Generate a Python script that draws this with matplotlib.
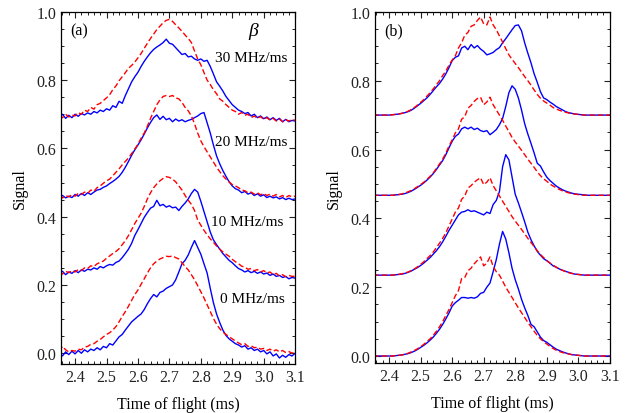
import numpy as np
import matplotlib
matplotlib.use("Agg")
import matplotlib.pyplot as plt
from matplotlib.ticker import MultipleLocator

plt.rcParams['font.family'] = ['Liberation Serif', 'DejaVu Serif']
plt.rcParams['mathtext.fontset'] = 'stix'

# time of flight grid (ms), 2.35 ... 3.10
tof = np.round(np.arange(2.35, 3.1001, 0.01), 2)

# ---- panel (a): measured signals (red dashed / blue solid), 30, 20, 10, 0 MHz/ms
a_red_30 = [0.695, 0.69, 0.70, 0.692, 0.698, 0.695, 0.705, 0.70, 0.712, 0.708,
            0.72, 0.715, 0.728, 0.732, 0.74, 0.748, 0.757, 0.772, 0.783, 0.798,
            0.81, 0.822, 0.835, 0.843, 0.853, 0.865, 0.878, 0.893, 0.908, 0.922,
            0.935, 0.948, 0.958, 0.968, 0.975, 0.978, 0.972, 0.962, 0.953, 0.943,
            0.932, 0.922, 0.91, 0.885, 0.862, 0.845, 0.822, 0.80, 0.787, 0.772,
            0.76, 0.745, 0.738, 0.728, 0.72, 0.712, 0.708, 0.70, 0.705, 0.697,
            0.70, 0.69, 0.695, 0.688, 0.693, 0.685, 0.69, 0.683, 0.688, 0.68,
            0.686, 0.678, 0.684, 0.68, 0.685, 0.682]
a_blue_30 = [0.69, 0.70, 0.688, 0.697, 0.69, 0.70, 0.694, 0.702, 0.698, 0.704,
             0.70, 0.708, 0.704, 0.712, 0.708, 0.716, 0.712, 0.725, 0.72, 0.738,
             0.732, 0.755, 0.775, 0.795, 0.81, 0.823, 0.84, 0.855, 0.868, 0.88,
             0.89, 0.897, 0.903, 0.91, 0.92, 0.908, 0.905, 0.895, 0.885, 0.875,
             0.878, 0.868, 0.87, 0.862, 0.858, 0.862, 0.855, 0.858, 0.84, 0.818,
             0.795, 0.782, 0.768, 0.752, 0.74, 0.728, 0.72, 0.712, 0.708, 0.702,
             0.705, 0.695, 0.70, 0.69, 0.695, 0.687, 0.692, 0.684, 0.69, 0.682,
             0.688, 0.678, 0.685, 0.678, 0.682, 0.68]
a_red_20 = [0.46, 0.455, 0.462, 0.458, 0.464, 0.46, 0.468, 0.465, 0.472, 0.468,
            0.478, 0.474, 0.485, 0.49, 0.498, 0.505, 0.51, 0.52, 0.53, 0.54,
            0.552, 0.562, 0.572, 0.585, 0.598, 0.612, 0.63, 0.645, 0.665, 0.688,
            0.708, 0.728, 0.742, 0.752, 0.755, 0.752, 0.755, 0.748, 0.745, 0.735,
            0.72, 0.71, 0.695, 0.672, 0.645, 0.622, 0.605, 0.59, 0.575, 0.56,
            0.545, 0.532, 0.52, 0.51, 0.502, 0.494, 0.49, 0.485, 0.478, 0.476,
            0.47, 0.472, 0.466, 0.47, 0.464, 0.468, 0.462, 0.466, 0.46, 0.465,
            0.458, 0.462, 0.456, 0.462, 0.458, 0.46]
a_blue_20 = [0.455, 0.462, 0.455, 0.46, 0.456, 0.465, 0.46, 0.468, 0.462, 0.47,
             0.465, 0.472, 0.478, 0.48, 0.486, 0.49, 0.497, 0.503, 0.51, 0.518,
             0.53, 0.545, 0.562, 0.58, 0.596, 0.61, 0.625, 0.642, 0.66, 0.676,
             0.69, 0.698, 0.685, 0.694, 0.684, 0.688, 0.678, 0.686, 0.68, 0.684,
             0.678, 0.682, 0.685, 0.69, 0.695, 0.702, 0.705, 0.675, 0.645, 0.61,
             0.578, 0.555, 0.535, 0.518, 0.502, 0.49, 0.482, 0.478, 0.47, 0.474,
             0.466, 0.47, 0.462, 0.467, 0.46, 0.464, 0.456, 0.46, 0.455, 0.458,
             0.452, 0.456, 0.45, 0.454, 0.45, 0.452]
a_red_10 = [0.238, 0.232, 0.24, 0.236, 0.242, 0.238, 0.245, 0.242, 0.25, 0.248,
            0.256, 0.254, 0.262, 0.266, 0.27, 0.278, 0.285, 0.292, 0.298, 0.306,
            0.318, 0.33, 0.345, 0.362, 0.38, 0.395, 0.41, 0.43, 0.452, 0.47,
            0.485, 0.496, 0.505, 0.512, 0.517, 0.515, 0.51, 0.502, 0.49, 0.478,
            0.462, 0.448, 0.436, 0.418, 0.39, 0.375, 0.36, 0.347, 0.335, 0.325,
            0.314, 0.305, 0.297, 0.29, 0.284, 0.275, 0.268, 0.262, 0.255, 0.252,
            0.246, 0.248, 0.242, 0.245, 0.238, 0.242, 0.235, 0.238, 0.23, 0.234,
            0.226, 0.23, 0.224, 0.228, 0.225, 0.226]
a_blue_10 = [0.235, 0.24, 0.23, 0.238, 0.234, 0.242, 0.236, 0.244, 0.24, 0.246,
             0.244, 0.25, 0.246, 0.254, 0.25, 0.256, 0.26, 0.258, 0.266, 0.27,
             0.28, 0.292, 0.305, 0.322, 0.345, 0.362, 0.38, 0.398, 0.412, 0.425,
             0.43, 0.448, 0.432, 0.436, 0.428, 0.432, 0.426, 0.428, 0.418, 0.43,
             0.44, 0.452, 0.468, 0.48, 0.472, 0.445, 0.415, 0.385, 0.355, 0.332,
             0.318, 0.305, 0.292, 0.282, 0.272, 0.265, 0.256, 0.248, 0.244, 0.238,
             0.242, 0.236, 0.24, 0.234, 0.238, 0.232, 0.235, 0.228, 0.232, 0.225,
             0.228, 0.222, 0.225, 0.218, 0.222, 0.22]
a_red_0 = [0.005, 0.02, 0.01, 0.004, 0.008, 0.006, 0.012, 0.01, 0.018, 0.02,
           0.026, 0.028, 0.035, 0.04, 0.048, 0.055, 0.06, 0.068, 0.078, 0.092,
           0.108, 0.122, 0.138, 0.155, 0.172, 0.185, 0.202, 0.218, 0.235, 0.25,
           0.262, 0.27, 0.276, 0.28, 0.284, 0.283, 0.285, 0.28, 0.276, 0.265,
           0.254, 0.244, 0.23, 0.215, 0.198, 0.18, 0.162, 0.142, 0.122, 0.102,
           0.085, 0.072, 0.062, 0.055, 0.048, 0.042, 0.036, 0.03, 0.025, 0.028,
           0.02, 0.022, 0.016, 0.018, 0.012, 0.014, 0.008, 0.012, 0.006, 0.01,
           0.004, 0.008, 0.002, 0.005, 0.0, 0.004]
a_blue_0 = [0.002, -0.008, 0.004, -0.004, 0.006, -0.002, 0.008, 0.0, 0.01, 0.004,
            0.012, 0.008, 0.016, 0.01, 0.02, 0.016, 0.028, 0.024, 0.036, 0.048,
            0.055, 0.068, 0.08, 0.092, 0.1, 0.108, 0.115, 0.128, 0.145, 0.16,
            0.172, 0.165, 0.178, 0.182, 0.19, 0.195, 0.2, 0.215, 0.238, 0.262,
            0.272, 0.288, 0.31, 0.33, 0.31, 0.29, 0.262, 0.235, 0.19, 0.148,
            0.115, 0.09, 0.068, 0.052, 0.042, 0.035, 0.028, 0.024, 0.018, 0.022,
            0.012, 0.016, 0.008, 0.012, 0.004, 0.008, -0.002, 0.004, -0.008, -0.002,
            -0.014, -0.006, -0.012, -0.004, -0.008, 0.0]

# ---- panel (b): simulated signals
b_red_30 = [0.70, 0.70, 0.70, 0.70, 0.70, 0.70, 0.701, 0.702, 0.703, 0.705,
            0.708, 0.711, 0.716, 0.722, 0.729, 0.737, 0.745, 0.755, 0.765, 0.776,
            0.788, 0.80, 0.815, 0.828, 0.845, 0.86, 0.872, 0.895, 0.91, 0.932,
            0.94, 0.958, 0.962, 0.975, 0.985, 0.965, 0.962, 0.985, 0.962, 0.948,
            0.93, 0.912, 0.893, 0.875, 0.862, 0.85, 0.838, 0.825, 0.812, 0.80,
            0.787, 0.773, 0.76, 0.749, 0.741, 0.735, 0.729, 0.722, 0.718, 0.714,
            0.711, 0.708, 0.706, 0.704, 0.703, 0.702, 0.701, 0.70, 0.70, 0.70,
            0.70, 0.70, 0.70, 0.70, 0.70, 0.70]
b_blue_30 = [0.70, 0.70, 0.70, 0.70, 0.70, 0.70, 0.701, 0.702, 0.703, 0.705,
             0.707, 0.71, 0.714, 0.72, 0.727, 0.734, 0.742, 0.75, 0.76, 0.771,
             0.782, 0.792, 0.805, 0.82, 0.838, 0.858, 0.868, 0.872, 0.895, 0.90,
             0.89, 0.905, 0.895, 0.902, 0.892, 0.885, 0.875, 0.878, 0.882, 0.89,
             0.896, 0.91, 0.922, 0.935, 0.948, 0.96, 0.962, 0.945, 0.91, 0.88,
             0.852, 0.82, 0.795, 0.768, 0.75, 0.745, 0.738, 0.732, 0.725, 0.72,
             0.715, 0.71, 0.707, 0.705, 0.703, 0.702, 0.701, 0.70, 0.70, 0.70,
             0.70, 0.70, 0.70, 0.70, 0.70, 0.70]
b_red_20 = [0.467, 0.467, 0.467, 0.467, 0.467, 0.467, 0.467, 0.468, 0.469, 0.471,
            0.474, 0.477, 0.481, 0.486, 0.492, 0.498, 0.505, 0.513, 0.522, 0.532,
            0.545, 0.558, 0.572, 0.59, 0.61, 0.628, 0.648, 0.66, 0.688, 0.695,
            0.72, 0.728, 0.74, 0.748, 0.752, 0.73, 0.738, 0.752, 0.73, 0.715,
            0.70, 0.685, 0.668, 0.652, 0.635, 0.622, 0.61, 0.598, 0.585, 0.572,
            0.56, 0.548, 0.535, 0.524, 0.515, 0.508, 0.50, 0.494, 0.489, 0.484,
            0.48, 0.477, 0.474, 0.472, 0.47, 0.469, 0.468, 0.467, 0.467, 0.467,
            0.467, 0.467, 0.467, 0.467, 0.467, 0.467]
b_blue_20 = [0.467, 0.467, 0.467, 0.467, 0.467, 0.467, 0.467, 0.468, 0.469, 0.47,
             0.472, 0.475, 0.479, 0.484, 0.49, 0.496, 0.503, 0.511, 0.52, 0.53,
             0.542, 0.555, 0.568, 0.585, 0.605, 0.624, 0.638, 0.645, 0.66, 0.665,
             0.66, 0.665, 0.658, 0.662, 0.655, 0.652, 0.655, 0.643, 0.65, 0.658,
             0.672, 0.69, 0.725, 0.765, 0.785, 0.775, 0.75, 0.715, 0.675, 0.645,
             0.618, 0.59, 0.56, 0.552, 0.535, 0.52, 0.51, 0.502, 0.494, 0.488,
             0.483, 0.479, 0.476, 0.473, 0.471, 0.47, 0.469, 0.468, 0.467, 0.467,
             0.467, 0.467, 0.467, 0.467, 0.467, 0.467]
b_red_10 = [0.235, 0.235, 0.235, 0.235, 0.235, 0.235, 0.235, 0.236, 0.237, 0.239,
            0.241, 0.244, 0.248, 0.253, 0.259, 0.266, 0.274, 0.283, 0.292, 0.302,
            0.315, 0.328, 0.342, 0.358, 0.378, 0.398, 0.418, 0.43, 0.455, 0.465,
            0.488, 0.495, 0.505, 0.512, 0.518, 0.498, 0.505, 0.518, 0.495, 0.48,
            0.465, 0.45, 0.435, 0.42, 0.405, 0.392, 0.38, 0.368, 0.355, 0.342,
            0.33, 0.318, 0.306, 0.295, 0.286, 0.278, 0.27, 0.264, 0.258, 0.253,
            0.249, 0.245, 0.242, 0.24, 0.238, 0.237, 0.236, 0.235, 0.235, 0.235,
            0.235, 0.235, 0.235, 0.235, 0.235, 0.235]
b_blue_10 = [0.235, 0.235, 0.235, 0.235, 0.235, 0.235, 0.235, 0.236, 0.237, 0.238,
             0.24, 0.243, 0.247, 0.252, 0.257, 0.263, 0.27, 0.278, 0.286, 0.296,
             0.306, 0.318, 0.332, 0.348, 0.365, 0.38, 0.395, 0.41, 0.418, 0.42,
             0.425, 0.42, 0.422, 0.418, 0.414, 0.41, 0.418, 0.414, 0.44, 0.452,
             0.478, 0.55, 0.585, 0.57, 0.52, 0.47, 0.445, 0.418, 0.39, 0.36,
             0.338, 0.32, 0.304, 0.293, 0.283, 0.277, 0.27, 0.262, 0.258, 0.253,
             0.249, 0.246, 0.243, 0.24, 0.238, 0.237, 0.236, 0.235, 0.235, 0.235,
             0.235, 0.235, 0.235, 0.235, 0.235, 0.235]
b_red_0 = [0.0, 0.0, 0.0, 0.0, 0.0, 0.0, 0.0, 0.001, 0.002, 0.003,
           0.005, 0.008, 0.012, 0.016, 0.021, 0.027, 0.034, 0.042, 0.05, 0.06,
           0.072, 0.085, 0.10, 0.118, 0.135, 0.155, 0.175, 0.19, 0.225, 0.228,
           0.248, 0.255, 0.268, 0.278, 0.288, 0.262, 0.27, 0.288, 0.26, 0.245,
           0.235, 0.218, 0.20, 0.185, 0.17, 0.155, 0.14, 0.126, 0.112, 0.098,
           0.085, 0.072, 0.06, 0.05, 0.042, 0.035, 0.028, 0.022, 0.017, 0.013,
           0.01, 0.008, 0.006, 0.004, 0.003, 0.002, 0.001, 0.0, 0.0, 0.0,
           0.0, 0.0, 0.0, 0.0, 0.0, 0.0]
b_blue_0 = [0.0, 0.0, 0.0, 0.0, 0.0, 0.0, 0.0, 0.001, 0.002, 0.003,
            0.005, 0.007, 0.01, 0.014, 0.019, 0.025, 0.031, 0.038, 0.046, 0.055,
            0.066, 0.078, 0.092, 0.108, 0.125, 0.145, 0.155, 0.162, 0.17, 0.17,
            0.168, 0.17, 0.168, 0.172, 0.182, 0.185, 0.20, 0.212, 0.245, 0.28,
            0.325, 0.362, 0.34, 0.30, 0.255, 0.222, 0.195, 0.165, 0.14, 0.118,
            0.092, 0.085, 0.07, 0.055, 0.045, 0.04, 0.033, 0.026, 0.02, 0.016,
            0.012, 0.009, 0.006, 0.004, 0.003, 0.002, 0.001, 0.0, 0.0, 0.0,
            0.0, 0.0, 0.0, 0.0, 0.0, 0.0]

sweep_labels = ["30 MHz/ms", "20 MHz/ms", "10 MHz/ms", "0 MHz/ms"]
label_y = [0.865, 0.62, 0.386, 0.159]
label_x = [3.076, 3.076, 3.062, 3.066]

panel_a = [(a_red_30, a_blue_30), (a_red_20, a_blue_20),
           (a_red_10, a_blue_10), (a_red_0, a_blue_0)]
panel_b = [(b_red_30, b_blue_30), (b_red_20, b_blue_20),
           (b_red_10, b_blue_10), (b_red_0, b_blue_0)]

fig = plt.figure(figsize=(6.28, 4.14), dpi=100)
ax_a = fig.add_axes([0.097, 0.118, 0.373, 0.851])
ax_b = fig.add_axes([0.597, 0.121, 0.374, 0.848])


def style_axis(ax, ylow):
    ax.set_xlim(2.355, 3.1)
    ax.set_ylim(ylow, 1.0)
    ax.xaxis.set_major_locator(MultipleLocator(0.1))
    ax.xaxis.set_minor_locator(MultipleLocator(0.02))
    ax.yaxis.set_major_locator(MultipleLocator(0.2))
    ax.yaxis.set_minor_locator(MultipleLocator(0.05))
    ax.tick_params(which="both", direction="in", top=True, right=True,
                   labelsize=11.5, colors="#222222")
    ax.tick_params(which="major", length=4.5, width=0.8)
    ax.tick_params(which="minor", length=2.5, width=0.7)
    for s in ax.spines.values():
        s.set_linewidth(0.9)
    ax.xaxis.set_major_formatter(plt.FuncFormatter(lambda v, p: f"{v:.1f}"))
    ax.yaxis.set_major_formatter(plt.FuncFormatter(lambda v, p: f"{v:.1f}"))
    ax.set_xlabel("Time of flight (ms)", fontsize=11.5, labelpad=8)
    ax.set_ylabel("Signal", fontsize=11.5, labelpad=6)


for ax, pairs in ((ax_a, panel_a), (ax_b, panel_b)):
    for red, blue in pairs:
        ax.plot(tof, blue, color="blue", lw=1.0)
        ax.plot(tof, red, color="red", lw=1.0, ls=(0, (4, 2)))

style_axis(ax_a, -0.032)
style_axis(ax_b, -0.02)

ax_a.text(2.413, 0.946, "(a)", fontsize=11.5, ha="center", va="center")
ax_b.text(2.413, 0.946, "(b)", fontsize=11.5, ha="center", va="center")
ax_a.text(2.966, 0.945, "β", fontsize=14, style="italic", ha="center", va="center")
for lab, lx, ly in zip(sweep_labels, label_x, label_y):
    ax_a.text(lx, ly, lab, fontsize=11, ha="right", va="center")

fig.savefig("out.png", dpi=100)
